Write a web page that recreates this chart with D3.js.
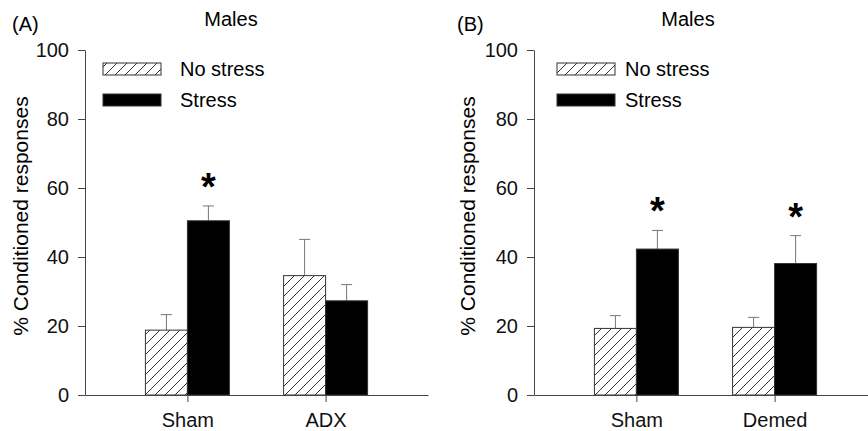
<!DOCTYPE html>
<html lang="en">
<head>
<meta charset="UTF-8">
<script src="https://cdnjs.cloudflare.com/ajax/libs/d3/7.8.5/d3.min.js"></script>
<title>Conditioned responses</title>
<style>
    body { margin: 0; background: white; }
    svg { font-family: 'Liberation Sans', Arial, sans-serif; }
    .axis path, .axis line { stroke: #444; }
    .axis text { fill: #111; font-size: 20px; }
</style>
</head>
<body>
<svg width="868" height="431"></svg>
<script>
// data
const seriesNames = ['No stress', 'Stress']
const yTicks = [0, 20, 40, 60, 80, 100]

const groupsA = ['Sham', 'ADX']
const noStressA = [18.8, 34.6]
const noStressErrA = [4.5, 10.5]
const stressA = [50.5, 27.3]
const stressErrA = [4.3, 4.7]
const starsA = [false, true, false, false]   // [noStress0, stress0, noStress1, stress1]

const groupsB = ['Sham', 'Demed']
const noStressB = [19.3, 19.6]
const noStressErrB = [3.7, 2.9]
const stressB = [42.3, 38.1]
const stressErrB = [5.4, 8.1]
const starsB = [false, true, false, true]

const panels = [
    { tag: '(A)', title: 'Males', groups: groupsA, ns: noStressA, nsErr: noStressErrA, s: stressA, sErr: stressErrA, stars: starsA,
      x0: 85, tagX: 12, titleX: 231, labelX: 28, legX: 103, legTextX: 180 },
    { tag: '(B)', title: 'Males', groups: groupsB, ns: noStressB, nsErr: noStressErrB, s: stressB, sErr: stressErrB, stars: starsB,
      x0: 534, tagX: 457, titleX: 688, labelX: 475, legX: 557, legTextX: 625 }
]

const svg = d3.select('svg')
const plotTop = 50, plotBot = 395, axisLen = 343, barW = 42

// hatch pattern
svg.append('defs').append('pattern')
    .attr('id', 'hatch')
    .attr('patternUnits', 'userSpaceOnUse')
    .attr('width', 10).attr('height', 10)
    .append('path')
    .attr('d', 'M0,10 L10,0 M-2,2 L2,-2 M8,12 L12,8')
    .attr('stroke', '#333')
    .attr('stroke-width', 1)

const y = d3.scaleLinear().domain([0, 100]).range([plotBot, plotTop])

panels.forEach(p => {
    const g = svg.append('g')
    const x = d3.scalePoint().domain(p.groups).range([p.x0, p.x0 + axisLen]).padding(0.741)

    // bars
    const bars = []
    p.groups.forEach((grp, i) => {
        bars.push({ grp, val: p.ns[i], err: p.nsErr[i], off: -barW, fill: 'url(#hatch)', star: p.stars[i * 2] })
        bars.push({ grp, val: p.s[i], err: p.sErr[i], off: 0, fill: 'black', star: p.stars[i * 2 + 1] })
    })

    // error bars (up only)
    bars.forEach(b => {
        const cx = x(b.grp) + b.off + barW / 2
        g.append('line')
            .attr('x1', cx).attr('x2', cx)
            .attr('y1', y(b.val)).attr('y2', y(b.val + b.err))
            .attr('stroke', '#777').attr('stroke-width', 1)
        g.append('line')
            .attr('x1', cx - 5.5).attr('x2', cx + 5.5)
            .attr('y1', y(b.val + b.err)).attr('y2', y(b.val + b.err))
            .attr('stroke', '#777').attr('stroke-width', 1)
        if (b.star) {
            g.append('text')
                .attr('x', cx).attr('y', y(b.val + b.err) - 6)
                .attr('text-anchor', 'middle')
                .style('font-size', '38px').style('font-weight', 'bold')
                .text('*')
        }
    })

    g.selectAll('rect.bar')
        .data(bars)
        .enter()
        .append('rect')
        .attr('class', 'bar')
        .attr('x', d => x(d.grp) + d.off)
        .attr('y', d => y(d.val))
        .attr('width', barW)
        .attr('height', d => plotBot - y(d.val))
        .attr('fill', d => d.fill)
        .attr('stroke', '#333')
        .attr('stroke-width', 1)

    // axes
    g.append('g')
        .attr('class', 'axis')
        .attr('transform', 'translate(' + p.x0 + ',0)')
        .call(d3.axisLeft(y).tickValues(yTicks).tickSize(7).tickPadding(9).tickSizeOuter(0))

    g.append('g')
        .attr('class', 'axis')
        .attr('transform', 'translate(0,' + plotBot + ')')
        .call(d3.axisBottom(x).tickSize(7).tickPadding(11).tickSizeOuter(0))

    // titles
    g.append('text').attr('x', p.tagX).attr('y', 31).style('font-size', '20px').text(p.tag)
    g.append('text').attr('x', p.titleX).attr('y', 26).attr('text-anchor', 'middle').style('font-size', '20px').text(p.title)

    g.append('text')
        .attr('transform', 'translate(' + p.labelX + ',216) rotate(-90)')
        .attr('text-anchor', 'middle')
        .style('font-size', '21px')
        .text('% Conditioned responses')

    // legend
    seriesNames.forEach((name, i) => {
        g.append('rect')
            .attr('x', p.legX).attr('y', 63 + i * 31)
            .attr('width', 58).attr('height', 12)
            .attr('fill', i === 0 ? 'url(#hatch)' : 'black')
            .attr('stroke', '#333')
        g.append('text')
            .attr('x', p.legTextX).attr('y', 76 + i * 31)
            .style('font-size', '20px')
            .text(name)
    })
})
</script>
</body>
</html>
